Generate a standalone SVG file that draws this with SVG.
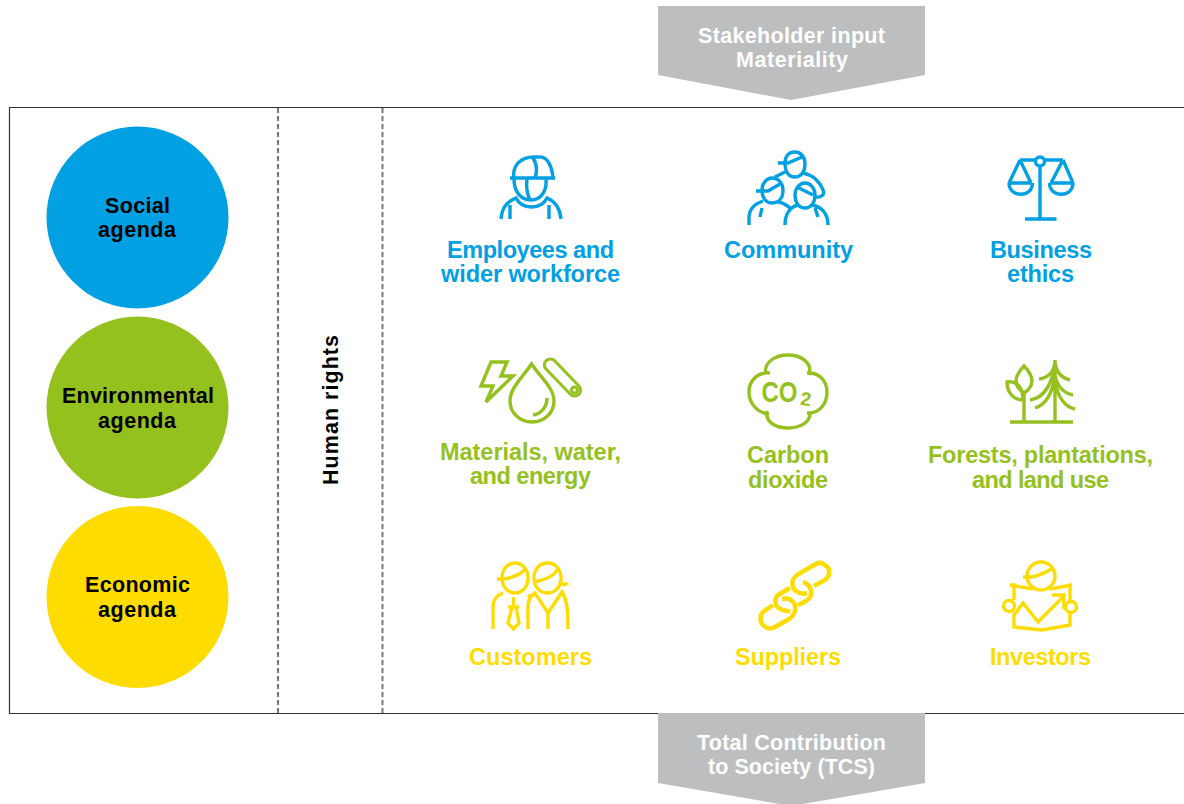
<svg xmlns="http://www.w3.org/2000/svg" width="1184" height="804" viewBox="0 0 1184 804">
<style>
text{font-family:"Liberation Sans",Arial,sans-serif;font-weight:700;font-size:23.5px;text-anchor:middle}
.k{fill:#000;font-size:21.5px}
.w{fill:#fff;font-size:21.5px}
.b{fill:#00a0e3}.g{fill:#95c11f}.y{fill:#ffdc00}
.i{fill:none;stroke-width:3.4;stroke-linecap:butt;stroke-linejoin:miter}
.ib{stroke:#00a0e3}.ig{stroke:#95c11f}.iy{stroke:#ffdc00}
.arrow{fill:#bcbec0}
</style>
<rect width="1184" height="804" fill="#fff"/>
<g id="frame" fill="none">
<path d="M1184 107.500H9.500V713.500H1184" stroke="#333" stroke-width="1.200"/>
<path d="M278 108V713M382.500 108V713" stroke="#777" stroke-width="2" stroke-dasharray="5 3"/>
</g>
<g id="input-arrow"><path class="arrow" d="M658 6H925V75L791 100L658 75Z"/>
<text class="w" x="791.500" y="43" textLength="187">Stakeholder input</text><text class="w" x="792" y="67" textLength="112">Materiality</text></g>
<g id="output-arrow"><path class="arrow" d="M658 713H925V783L791 806L658 783Z"/>
<text class="w" x="791.500" y="750" textLength="189">Total Contribution</text><text class="w" x="791.500" y="774" textLength="167">to Society (TCS)</text></g>
<g id="social-agenda"><circle cx="137.500" cy="217.500" r="91" class="b"/><text class="k" x="137.500" y="213" textLength="65">Social</text><text class="k" x="137" y="237" textLength="78">agenda</text></g>
<g id="environmental-agenda"><circle cx="137.500" cy="407.500" r="91" class="g"/><text class="k" x="138" y="403" textLength="152">Environmental</text><text class="k" x="137" y="428" textLength="78">agenda</text></g>
<g id="economic-agenda"><circle cx="137.500" cy="597" r="91" class="y"/><text class="k" x="137.500" y="592" textLength="105">Economic</text><text class="k" x="137" y="617" textLength="78">agenda</text></g>
<g id="human-rights"><text class="k" transform="translate(338 410) rotate(-90)" textLength="150">Human rights</text></g>

<g id="employees">
<path class="i ib" d="M510 178H555M514 178C512 165 521 157 534 157H540C548 157 552 167 553 178M533 158C537 164 537 172 535 178M514 179C514 192 521 200 531 200C541 200 547 191 546 179M527 179C526 187 527 194 530 200M501 219C502 207 507 202 516 198C522 210 541 210 547 198C554 201 560 208 561 219M510 205V219M549 205V219"/>
<text class="b" x="530.500" y="258" textLength="167">Employees and</text><text class="b" x="530.500" y="282" textLength="179">wider workforce</text>
</g>
<g id="community">
<path class="i ib" d="M778 163H788L802 157M785 163C785 156 789 152 795 152C801 152 805 157 805 164C805 172 801 177 795 177C789 177 785 172 785 163ZM775 177L785 172M803 173C813 175 820 182 823 190C825 194 822 198 815 197M756 191H768L780 184M762 190C762 183 767 178 772 178C779 178 783 184 783 190C783 198 779 203 772 203C766 203 762 198 762 190ZM795 195C795 188 800 183 805 183C811 183 815 189 815 195C815 203 811 208 805 208C799 208 795 203 795 195ZM797 187L813 195M749 225V218C749 209 754 204 763 201M778 202C783 203 787 205 790 208M785 225C785 214 790 207 798 205M812 205C822 207 828 214 828 225M762 208L760 217M815 208L818 217"/>
<text class="b" x="788.500" y="258" textLength="129">Community</text>
</g>
<g id="business-ethics">
<circle class="i ib" cx="1040" cy="161.500" r="4.500"/>
<path class="i ib" d="M1020 160H1035.500M1044.500 160H1063M1040 166V218M1025 219H1056.500M1020 160L1009 183M1020 160L1031 183M1063 160L1051 183M1063 160L1073 183M1009 183H1031M1050 183H1073M1009 183C1009 198 1032.500 198 1032.500 183M1049.500 183C1049.500 198 1073 198 1073 183"/>
<text class="b" x="1041" y="258" textLength="102">Business</text><text class="b" x="1040.500" y="282" textLength="67">ethics</text>
</g>
<g id="materials">
<path class="i ig" d="M491 362H507L501 376H513L486 402L493 386H481ZM531.500 364C522 378 510 388 510 401C510 413 520 422 532 422C544 422 554 413 554 401C554 388 541 378 531.500 364ZM547 398C547 407 541 414 533 415"/>
<rect class="i ig" style="stroke-width:3" x="539" y="371.500" width="47" height="12" rx="6" transform="rotate(46 562.500 377.500)"/>
<circle class="i ig" style="stroke-width:3" cx="574.500" cy="390" r="3"/>
<text class="g" x="530.500" y="460" textLength="181">Materials, water,</text><text class="g" x="530.500" y="484" textLength="121">and energy</text>
</g>
<g id="carbon-dioxide">
<path class="i ig" d="M766 374C763 362 776 355 788 355C800 355 813 362 809 375M807 373C820 372 827 382 827 392C827 403 820 414 807 413M810 412C811 423 799 428 788 428C777 428 765 423 767 411M769 414C757 413 749 403 749 392C749 381 757 372 770 373"/>
<text x="779.500" y="402" class="g" style="font-size:30px" lengthAdjust="spacingAndGlyphs" textLength="36">CO</text>
<text x="806" y="405.500" class="g" style="font-size:19px" transform="rotate(8 806 399)">2</text>
<text class="g" x="788" y="463" textLength="82">Carbon</text><text class="g" x="788" y="488" textLength="80">dioxide</text>
</g>
<g id="forests">
<path class="i ig" d="M1010 422H1073M1024 422V392M1055 360V422M1024 366C1014 376 1013 386 1024 393C1035 386 1034 376 1024 366ZM1007 382C1014 381 1023 384 1023 400C1013 400 1007 392 1007 382ZM1030 400C1045 398 1053 382 1055 362M1039 379C1048 378 1054 372 1055 362M1070 380C1062 378 1056 372 1055 362M1035 408C1048 404 1053 390 1055 375M1073 395C1063 393 1057 385 1055 375M1075 409C1065 407 1058 397 1056 385"/>
<text class="g" x="1040.500" y="463" textLength="225">Forests, plantations,</text><text class="g" x="1040.500" y="488" textLength="137">and land use</text>
</g>
<g id="customers">
<path class="i iy" d="M497 579H504C512 578 522 574 526 568M515 563C507 563 502 570 502 578C502 587 508 593 515 593C522 593 528 587 528 578C528 570 523 563 515 563ZM547.500 563C539 563 534 570 534 578C534 587 540 593 547.500 593C555 593 561 587 561 578C561 570 556 563 547.500 563ZM535 582C546 579 556 576 558 567M560 580C561 584 564 586 568 583M493 629V607C493 600 497 595 503 593M528 595L531 598M528 629V607C528 601 530 596 535 593L548 613L562 592C567 600 568 610 568 629M548 613V629M513.500 597V605M508 607H519M512 607L508 623L513.500 629L519 623L516 607"/>
<text class="y" x="530.500" y="665" textLength="123">Customers</text>
</g>
<g id="suppliers">
<path d="M814 586L825 580C831 575 830 568 826 566C822 562 818 562 814 565L797 575C791 579 791 587 796 591C800 594 804 594 807 593M803 582C810 584 813 592 810 597C808 601 803 603 798 605M790 588L778 595C774 598 775 606 779 608C782 611 786 610 790 612M773 605L763 612C759 616 760 623 764 626C767 629 771 629 775 627L789 619C796 614 797 606 793 602C790 598 786 598 782 599" fill="none" stroke="#ffdc00" stroke-width="4.500"/>
<text class="y" x="788" y="665" textLength="106">Suppliers</text>
</g>
<g id="investors">
<circle class="i iy" cx="1041" cy="576" r="14"/>
<circle class="i iy" cx="1009" cy="606" r="5.500"/><circle class="i iy" cx="1071" cy="607" r="5.500"/>
<path class="i iy" d="M1023 577H1032C1040 575 1047 572 1053 568M1033 589L1010 585H1014V600M1050 589L1072 585H1070V601M1014 612V627L1042 630L1070 625V613M1014 615L1023 603L1038 622L1063 597M1052 595H1064V609"/>
<text class="y" x="1040.500" y="665" textLength="101">Investors</text>
</g>
</svg>
